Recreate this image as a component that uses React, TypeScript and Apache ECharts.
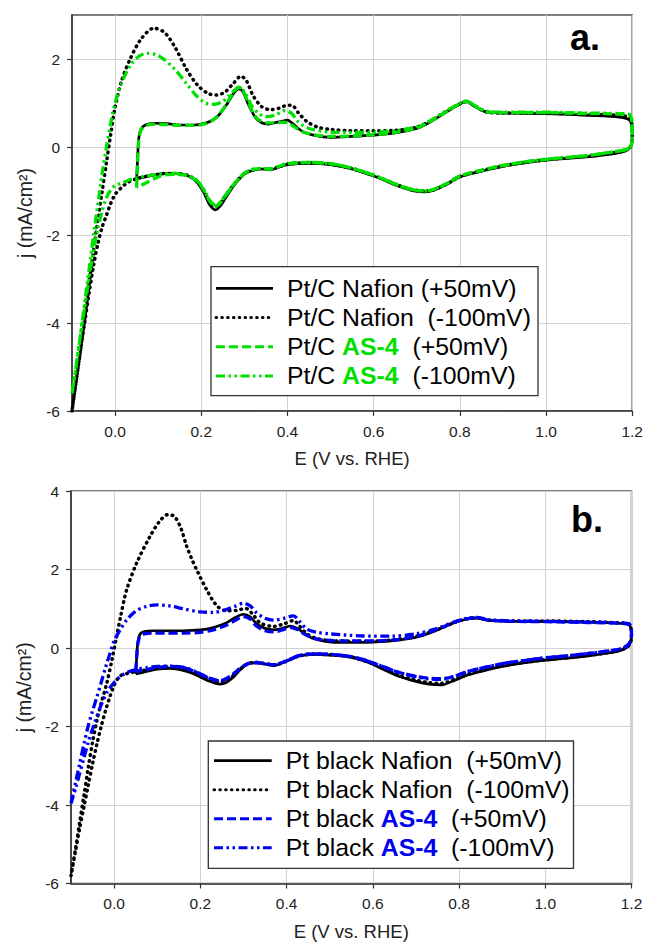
import React, { useEffect, useRef } from 'react';
import * as echarts from 'echarts';

// ---------- tick values ----------
const X_TICKS = [0, 0.2, 0.4, 0.6, 0.8, 1.0, 1.2];
const Y_TICKS_A = [-6, -4, -2, 0, 2];
const Y_TICKS_B = [-6, -4, -2, 0, 2, 4];

// ---------- panel a: Pt/C ----------
const A_NAFION_50: number[][] = [
  [0.05,-0.72],[0.052,-0.3],[0.055,0.2],[0.06,0.4],[0.07,0.5],[0.09,0.54],[0.12,0.53],[0.15,0.5],[0.18,0.5],[0.2,0.52],
  [0.22,0.58],[0.24,0.72],[0.26,0.98],[0.275,1.22],[0.287,1.32],[0.297,1.25],[0.31,0.95],[0.325,0.68],[0.34,0.55],[0.355,0.52],
  [0.37,0.55],[0.385,0.58],[0.4,0.61],[0.41,0.55],[0.425,0.42],[0.44,0.33],[0.46,0.27],[0.5,0.22],[0.55,0.24],[0.6,0.27],
  [0.65,0.32],[0.7,0.42],[0.73,0.56],[0.76,0.74],[0.79,0.92],[0.815,1.03],[0.835,0.92],[0.86,0.8],[0.9,0.77],[1.0,0.76],
  [1.1,0.72],[1.17,0.68],[1.195,0.6],[1.2,0.3],[1.198,0.05],[1.19,-0.06],[1.175,-0.12],[1.15,-0.16],[1.1,-0.22],[1.05,-0.26],
  [1.0,-0.3],[0.95,-0.36],[0.9,-0.44],[0.85,-0.55],[0.8,-0.68],[0.77,-0.85],[0.74,-0.98],[0.72,-1.02],[0.69,-0.99],[0.66,-0.9],
  [0.63,-0.78],[0.6,-0.66],[0.55,-0.5],[0.5,-0.4],[0.45,-0.37],[0.4,-0.4],[0.38,-0.46],[0.36,-0.52],[0.34,-0.5],[0.32,-0.53],
  [0.3,-0.62],[0.28,-0.82],[0.26,-1.1],[0.245,-1.33],[0.233,-1.43],[0.22,-1.32],[0.205,-1.02],[0.19,-0.8],[0.17,-0.66],[0.14,-0.6],
  [0.12,-0.6],[0.1,-0.62],[0.075,-0.67],[0.05,-0.72]
];
const A_NAFION_100: number[][] = [
  [-0.1,-6.0],[-0.09,-5.3],[-0.08,-4.6],[-0.07,-3.85],[-0.06,-3.1],[-0.05,-2.35],[-0.04,-1.65],[-0.03,-1.0],[-0.02,-0.35],[-0.01,0.3],
  [0.0,0.9],[0.015,1.5],[0.035,2.0],[0.06,2.45],[0.09,2.7],[0.115,2.6],[0.14,2.25],[0.165,1.78],[0.19,1.42],[0.215,1.22],
  [0.235,1.18],[0.255,1.25],[0.275,1.45],[0.292,1.61],[0.305,1.5],[0.32,1.17],[0.34,0.92],[0.36,0.85],[0.38,0.88],[0.4,0.95],
  [0.41,0.95],[0.425,0.78],[0.445,0.58],[0.47,0.45],[0.5,0.4],[0.55,0.37],[0.6,0.37],[0.65,0.38],[0.7,0.45],[0.73,0.58],
  [0.76,0.76],[0.79,0.93],[0.815,1.03],[0.835,0.93],[0.86,0.8],[0.9,0.77],[1.0,0.77],[1.1,0.74],[1.17,0.72],[1.195,0.65],
  [1.2,0.35],[1.198,0.05],[1.19,-0.05],[1.175,-0.1],[1.15,-0.14],[1.1,-0.2],[1.0,-0.29],[0.95,-0.35],[0.9,-0.43],[0.85,-0.54],
  [0.8,-0.67],[0.77,-0.84],[0.74,-0.97],[0.72,-1.0],[0.69,-0.97],[0.66,-0.88],[0.63,-0.76],[0.6,-0.65],[0.55,-0.49],[0.5,-0.39],
  [0.45,-0.36],[0.4,-0.39],[0.38,-0.45],[0.36,-0.5],[0.34,-0.49],[0.32,-0.52],[0.3,-0.6],[0.28,-0.8],[0.26,-1.05],[0.245,-1.26],
  [0.233,-1.35],[0.22,-1.26],[0.205,-0.98],[0.19,-0.78],[0.17,-0.65],[0.14,-0.6],[0.12,-0.6],[0.1,-0.62],[0.075,-0.66],[0.05,-0.72],
  [0.03,-0.8],[0.015,-0.92],[0.0,-1.08],[-0.01,-1.28],[-0.02,-1.55],[-0.03,-1.82],[-0.04,-2.2],[-0.05,-2.7],[-0.06,-3.3],[-0.07,-3.95],
  [-0.08,-4.6],[-0.09,-5.3],[-0.1,-6.0]
];
const A_AS4_50: number[][] = [
  [0.05,-0.92],[0.052,-0.4],[0.055,0.15],[0.06,0.38],[0.07,0.48],[0.09,0.52],[0.12,0.51],[0.15,0.49],[0.18,0.49],[0.2,0.51],
  [0.22,0.57],[0.24,0.72],[0.26,1.0],[0.275,1.25],[0.287,1.36],[0.297,1.28],[0.31,0.98],[0.325,0.7],[0.34,0.58],[0.355,0.55],
  [0.37,0.55],[0.385,0.56],[0.4,0.56],[0.41,0.5],[0.425,0.4],[0.44,0.33],[0.46,0.28],[0.5,0.24],[0.55,0.25],[0.6,0.28],
  [0.65,0.33],[0.7,0.43],[0.73,0.57],[0.76,0.75],[0.79,0.93],[0.815,1.04],[0.835,0.93],[0.86,0.81],[0.9,0.78],[1.0,0.78],
  [1.1,0.76],[1.17,0.75],[1.195,0.72],[1.2,0.4],[1.198,0.05],[1.19,-0.04],[1.175,-0.08],[1.15,-0.12],[1.1,-0.19],[1.0,-0.28],
  [0.95,-0.34],[0.9,-0.42],[0.85,-0.53],[0.8,-0.66],[0.77,-0.83],[0.74,-0.96],[0.72,-1.0],[0.69,-0.97],[0.66,-0.88],[0.63,-0.76],
  [0.6,-0.64],[0.55,-0.48],[0.5,-0.38],[0.45,-0.35],[0.4,-0.38],[0.38,-0.44],[0.36,-0.5],[0.34,-0.49],[0.32,-0.51],[0.3,-0.6],
  [0.28,-0.8],[0.26,-1.05],[0.245,-1.26],[0.233,-1.35],[0.22,-1.24],[0.205,-0.97],[0.19,-0.77],[0.17,-0.66],[0.14,-0.62],[0.12,-0.63],
  [0.1,-0.68],[0.075,-0.8],[0.05,-0.92]
];
const A_AS4_100: number[][] = [
  [-0.1,-5.6],[-0.09,-4.95],[-0.08,-4.25],[-0.07,-3.5],[-0.06,-2.75],[-0.05,-2.0],[-0.04,-1.3],[-0.03,-0.6],[-0.02,0.0],[-0.01,0.55],
  [0.0,1.0],[0.015,1.45],[0.035,1.85],[0.055,2.06],[0.075,2.13],[0.095,2.1],[0.115,1.98],[0.14,1.75],[0.165,1.45],[0.19,1.15],
  [0.21,1.0],[0.23,0.97],[0.25,1.04],[0.27,1.22],[0.287,1.35],[0.3,1.25],[0.318,0.92],[0.335,0.75],[0.35,0.69],[0.37,0.72],
  [0.395,0.83],[0.41,0.76],[0.426,0.56],[0.45,0.42],[0.5,0.34],[0.55,0.33],[0.6,0.34],[0.65,0.37],[0.7,0.46],[0.73,0.59],
  [0.76,0.77],[0.79,0.94],[0.815,1.04],[0.835,0.94],[0.86,0.82],[0.9,0.79],[1.0,0.79],[1.1,0.77],[1.17,0.76],[1.195,0.73],
  [1.2,0.4],[1.198,0.05],[1.19,-0.04],[1.175,-0.08],[1.15,-0.12],[1.1,-0.19],[1.0,-0.28],[0.95,-0.34],[0.9,-0.42],[0.85,-0.53],
  [0.8,-0.66],[0.77,-0.83],[0.74,-0.96],[0.72,-1.0],[0.69,-0.97],[0.66,-0.88],[0.63,-0.76],[0.6,-0.64],[0.55,-0.48],[0.5,-0.38],
  [0.45,-0.35],[0.4,-0.38],[0.38,-0.44],[0.36,-0.5],[0.34,-0.49],[0.32,-0.51],[0.3,-0.6],[0.28,-0.8],[0.26,-1.05],[0.245,-1.24],
  [0.233,-1.32],[0.22,-1.22],[0.205,-0.95],[0.19,-0.76],[0.17,-0.65],[0.14,-0.6],[0.12,-0.6],[0.1,-0.62],[0.075,-0.66],[0.05,-0.7],
  [0.03,-0.76],[0.015,-0.82],[0.0,-0.88],[-0.01,-0.98],[-0.02,-1.15],[-0.03,-1.45],[-0.04,-1.85],[-0.05,-2.35],[-0.06,-2.95],[-0.07,-3.6],
  [-0.08,-4.25],[-0.09,-4.95],[-0.1,-5.6]
];

// ---------- panel b: Pt black ----------
const B_NAFION_50: number[][] = [
  [0.05,-0.66],[0.052,-0.3],[0.055,0.15],[0.06,0.35],[0.07,0.42],[0.09,0.44],[0.12,0.44],[0.16,0.44],[0.2,0.46],[0.23,0.52],
  [0.26,0.64],[0.28,0.77],[0.3,0.86],[0.315,0.8],[0.33,0.62],[0.35,0.5],[0.37,0.46],[0.39,0.5],[0.41,0.56],[0.425,0.5],
  [0.44,0.38],[0.46,0.25],[0.49,0.17],[0.53,0.14],[0.6,0.15],[0.66,0.2],[0.71,0.3],[0.75,0.46],[0.79,0.65],[0.82,0.74],
  [0.84,0.76],[0.87,0.7],[0.92,0.68],[1.0,0.68],[1.1,0.66],[1.17,0.63],[1.195,0.58],[1.2,0.35],[1.198,0.15],[1.19,0.02],
  [1.175,-0.06],[1.15,-0.12],[1.1,-0.2],[1.05,-0.26],[1.0,-0.31],[0.95,-0.38],[0.9,-0.47],[0.85,-0.6],[0.82,-0.69],[0.79,-0.82],
  [0.76,-0.94],[0.73,-0.92],[0.7,-0.85],[0.66,-0.72],[0.62,-0.52],[0.59,-0.37],[0.55,-0.24],[0.5,-0.18],[0.46,-0.16],[0.43,-0.2],
  [0.416,-0.26],[0.39,-0.38],[0.37,-0.45],[0.35,-0.41],[0.33,-0.38],[0.31,-0.41],[0.29,-0.58],[0.277,-0.74],[0.26,-0.88],[0.246,-0.92],
  [0.23,-0.88],[0.215,-0.82],[0.2,-0.74],[0.183,-0.65],[0.16,-0.57],[0.13,-0.52],[0.1,-0.54],[0.075,-0.6],[0.05,-0.66]
];
const B_NAFION_100: number[][] = [
  [-0.1,-5.8],[-0.09,-5.15],[-0.08,-4.45],[-0.07,-3.75],[-0.06,-3.05],[-0.05,-2.4],[-0.04,-1.85],[-0.03,-1.4],[-0.017,-0.9],[-0.005,-0.3],
  [0.005,0.25],[0.015,0.8],[0.029,1.48],[0.052,2.16],[0.083,2.84],[0.105,3.22],[0.125,3.4],[0.14,3.35],[0.155,3.05],[0.168,2.6],
  [0.18,2.27],[0.192,1.98],[0.215,1.48],[0.238,1.08],[0.26,0.95],[0.285,0.96],[0.305,1.01],[0.32,0.88],[0.339,0.64],[0.37,0.55],
  [0.395,0.62],[0.416,0.7],[0.43,0.56],[0.447,0.36],[0.47,0.24],[0.5,0.19],[0.57,0.17],[0.64,0.2],[0.7,0.3],[0.75,0.47],
  [0.79,0.65],[0.82,0.75],[0.84,0.77],[0.87,0.71],[0.92,0.69],[1.0,0.69],[1.1,0.67],[1.17,0.64],[1.195,0.6],[1.2,0.35],
  [1.198,0.15],[1.19,0.02],[1.175,-0.05],[1.15,-0.11],[1.1,-0.19],[1.05,-0.25],[1.0,-0.3],[0.95,-0.37],[0.9,-0.45],[0.85,-0.58],
  [0.82,-0.67],[0.79,-0.8],[0.76,-0.9],[0.73,-0.88],[0.7,-0.82],[0.66,-0.7],[0.62,-0.5],[0.59,-0.36],[0.55,-0.23],[0.5,-0.17],
  [0.46,-0.16],[0.43,-0.2],[0.416,-0.26],[0.39,-0.38],[0.37,-0.44],[0.35,-0.4],[0.33,-0.37],[0.31,-0.4],[0.29,-0.56],[0.277,-0.7],
  [0.26,-0.82],[0.246,-0.86],[0.23,-0.82],[0.215,-0.76],[0.2,-0.68],[0.183,-0.6],[0.16,-0.53],[0.13,-0.5],[0.1,-0.52],[0.075,-0.56],
  [0.05,-0.6],[0.03,-0.65],[0.013,-0.72],[0.0,-0.95],[-0.01,-1.25],[-0.02,-1.6],[-0.03,-2.0],[-0.04,-2.45],[-0.05,-2.95],[-0.06,-3.5],
  [-0.07,-4.05],[-0.08,-4.6],[-0.09,-5.2],[-0.1,-5.8]
];
const B_AS4_50: number[][] = [
  [0.05,-0.6],[0.052,-0.3],[0.055,0.1],[0.06,0.3],[0.07,0.36],[0.09,0.38],[0.12,0.38],[0.16,0.38],[0.2,0.4],[0.23,0.46],
  [0.26,0.58],[0.28,0.7],[0.3,0.8],[0.315,0.74],[0.33,0.56],[0.35,0.44],[0.37,0.41],[0.39,0.46],[0.41,0.52],[0.425,0.47],
  [0.44,0.36],[0.46,0.26],[0.49,0.2],[0.53,0.18],[0.6,0.18],[0.66,0.22],[0.71,0.32],[0.75,0.48],[0.79,0.66],[0.82,0.75],
  [0.84,0.77],[0.87,0.71],[0.92,0.68],[1.0,0.67],[1.1,0.65],[1.17,0.63],[1.195,0.6],[1.2,0.38],[1.198,0.18],[1.19,0.06],
  [1.175,-0.02],[1.15,-0.07],[1.1,-0.14],[1.05,-0.2],[1.0,-0.25],[0.95,-0.32],[0.9,-0.4],[0.85,-0.52],[0.82,-0.6],[0.79,-0.72],
  [0.76,-0.78],[0.73,-0.77],[0.7,-0.72],[0.66,-0.62],[0.62,-0.46],[0.59,-0.34],[0.55,-0.22],[0.5,-0.16],[0.46,-0.15],[0.43,-0.19],
  [0.416,-0.25],[0.39,-0.37],[0.37,-0.43],[0.35,-0.4],[0.33,-0.37],[0.31,-0.4],[0.29,-0.54],[0.277,-0.66],[0.26,-0.78],[0.246,-0.83],
  [0.23,-0.8],[0.215,-0.74],[0.2,-0.66],[0.183,-0.58],[0.16,-0.5],[0.13,-0.47],[0.1,-0.5],[0.075,-0.55],[0.05,-0.6]
];
const B_AS4_100: number[][] = [
  [-0.1,-3.96],[-0.09,-3.45],[-0.08,-2.95],[-0.07,-2.45],[-0.06,-1.98],[-0.05,-1.6],[-0.04,-1.25],[-0.03,-0.88],[-0.02,-0.5],[-0.01,-0.15],
  [0.0,0.18],[0.015,0.48],[0.029,0.71],[0.05,0.94],[0.076,1.06],[0.1,1.1],[0.13,1.07],[0.16,1.0],[0.2,0.92],[0.23,0.91],
  [0.255,0.96],[0.28,1.06],[0.3,1.14],[0.315,1.08],[0.33,0.9],[0.35,0.76],[0.37,0.71],[0.395,0.76],[0.416,0.82],[0.43,0.68],
  [0.447,0.48],[0.47,0.4],[0.5,0.36],[0.57,0.31],[0.64,0.3],[0.7,0.36],[0.75,0.5],[0.79,0.67],[0.82,0.76],[0.84,0.78],
  [0.87,0.72],[0.92,0.69],[1.0,0.68],[1.1,0.66],[1.17,0.64],[1.195,0.61],[1.2,0.38],[1.198,0.18],[1.19,0.06],[1.175,-0.02],
  [1.15,-0.07],[1.1,-0.14],[1.05,-0.2],[1.0,-0.25],[0.95,-0.32],[0.9,-0.4],[0.85,-0.52],[0.82,-0.6],[0.79,-0.72],[0.76,-0.8],
  [0.73,-0.79],[0.7,-0.73],[0.66,-0.62],[0.62,-0.46],[0.59,-0.34],[0.55,-0.22],[0.5,-0.16],[0.46,-0.15],[0.43,-0.19],[0.416,-0.25],
  [0.39,-0.37],[0.37,-0.43],[0.35,-0.4],[0.33,-0.37],[0.31,-0.4],[0.29,-0.54],[0.277,-0.66],[0.26,-0.78],[0.246,-0.84],[0.23,-0.8],
  [0.215,-0.74],[0.2,-0.66],[0.183,-0.57],[0.16,-0.49],[0.13,-0.46],[0.1,-0.47],[0.075,-0.5],[0.05,-0.55],[0.03,-0.62],[0.015,-0.72],
  [0.0,-0.88],[-0.015,-1.1],[-0.03,-1.45],[-0.045,-1.9],[-0.06,-2.4],[-0.07,-2.8],[-0.08,-3.2],[-0.09,-3.6],[-0.1,-3.96]
];

// ---------- legend texts ----------
const CATALYST_A = 'Pt/C';
const CATALYST_B = 'Pt black';
const BINDERS = ['Nafion', 'Nafion', 'AS-4', 'AS-4'];
const LIMITS = ['(+50mV)', '(-100mV)', '(+50mV)', '(-100mV)'];
const GAPS_A = [1, 2, 2, 2];
const GAPS_B = [2, 2, 2, 2];
const PANEL_TAGS = ['a.', 'b.'];

// ---------- styles ----------
const BLACK = '#000000';
const GREEN = '#00e000';
const BLUE = '#0000f0';
const FONT = 'Liberation Sans, Arial, sans-serif';
const LEG_FS = 24.8;

const LINE_KINDS: Record<string, any> = {
  solid: { type: 'solid', width: 2.7, cap: 'butt' },
  dot: { type: [0.6, 5.2], width: 3.5, cap: 'round' },
  dash: { type: [9, 4], width: 3.3, cap: 'butt' },
  dashdotdot: { type: [9, 3.5, 2.5, 3.5, 2.5, 3.5], width: 3.3, cap: 'butt' },
};
const KIND_ORDER = ['solid', 'dot', 'dash', 'dashdotdot'];

function seriesName(cat: string, i: number, gaps: number[]) {
  return `${cat} ${BINDERS[i]}${' '.repeat(gaps[i])}${LIMITS[i]}`;
}

export default function App() {
  const ref = useRef<HTMLDivElement>(null);
  useEffect(() => {
    if (!ref.current) return;
    const chart = echarts.init(ref.current, null, { renderer: 'svg' });

    const grids = [
      { left: 72, top: 15, width: 564.5, height: 396 },
      { left: 71, top: 491, width: 560.5, height: 392.5 },
    ];
    const yTicks = [Y_TICKS_A, Y_TICKS_B];
    const yMax = [3, 4];

    const axisColor = '#333';
    const xAxes = grids.map((_, gi) => ({
      type: 'value',
      gridIndex: gi,
      min: -0.1,
      max: 1.2,
      name: 'E (V vs. RHE)',
      nameLocation: 'middle',
      nameGap: 38,
      nameTextStyle: { fontSize: 18.5, color: '#222', fontFamily: FONT },
      axisLine: { show: true, onZero: false, lineStyle: { color: axisColor, width: 1.5 } },
      axisTick: { show: true, inside: false, length: 5, customValues: X_TICKS, lineStyle: { color: axisColor, width: 1.2 } },
      axisLabel: {
        customValues: X_TICKS,
        margin: 12,
        fontSize: 15.5,
        color: '#222',
        fontFamily: FONT,
        formatter: (v: number) => v.toFixed(1),
      },
      splitLine: { show: true, lineStyle: { color: '#d2d2d2', width: 1 } },
    }));
    const yAxes = grids.map((_, gi) => ({
      type: 'value',
      gridIndex: gi,
      min: -6,
      max: yMax[gi],
      name: 'j (mA/cm²)',
      nameLocation: 'middle',
      nameGap: 34,
      nameTextStyle: { fontSize: 19.5, color: '#222', fontFamily: FONT },
      axisLine: { show: true, onZero: false, lineStyle: { color: axisColor, width: 1.5 } },
      axisTick: { show: true, inside: false, length: 5, customValues: yTicks[gi], lineStyle: { color: axisColor, width: 1.2 } },
      axisLabel: { customValues: yTicks[gi], margin: 12, fontSize: 15.5, color: '#222', fontFamily: FONT },
      splitLine: { show: true, lineStyle: { color: '#d2d2d2', width: 1 } },
    }));

    const panelData = [
      [A_NAFION_50, A_NAFION_100, A_AS4_50, A_AS4_100],
      [B_NAFION_50, B_NAFION_100, B_AS4_50, B_AS4_100],
    ];
    const panelAccent = [GREEN, BLUE];
    const cats = [CATALYST_A, CATALYST_B];
    const gaps = [GAPS_A, GAPS_B];

    const series: any[] = [];
    panelData.forEach((list, gi) => {
      list.forEach((data, i) => {
        const kind = LINE_KINDS[KIND_ORDER[i]];
        series.push({
          type: 'line',
          name: seriesName(cats[gi], i, gaps[gi]),
          xAxisIndex: gi,
          yAxisIndex: gi,
          data,
          symbol: 'none',
          smooth: 0.3,
          clip: true,
          z: 2 + i,
          lineStyle: {
            color: i < 2 ? BLACK : panelAccent[gi],
            width: kind.width,
            type: kind.type,
            cap: kind.cap,
          },
        });
      });
    });

    // legend boxes drawn as graphics
    const legendBoxes = [
      { x: 211, y: 266.7, w: 327, h: 129, row0: 288.3, step: 29.2, lx1: 216, lx2: 273, tx: 287 },
      { x: 208.3, y: 741, w: 365.2, h: 127.3, row0: 760.7, step: 29, lx1: 214, lx2: 271.7, tx: 285.7 },
    ];
    const graphic: any[] = [];
    legendBoxes.forEach((b, gi) => {
      graphic.push({
        type: 'rect',
        z: 100,
        shape: { x: b.x, y: b.y, width: b.w, height: b.h },
        style: { fill: '#fff', stroke: '#333', lineWidth: 1.3 },
      });
      for (let i = 0; i < 4; i++) {
        const kind = LINE_KINDS[KIND_ORDER[i]];
        const color = i < 2 ? BLACK : panelAccent[gi];
        const y = b.row0 + i * b.step;
        graphic.push({
          type: 'line',
          z: 101,
          shape: { x1: b.lx1, y1: y, x2: b.lx2, y2: y },
          style: {
            stroke: color,
            lineWidth: Math.min(kind.width, 3),
            lineDash: kind.type === 'solid' ? null : kind.type,
            lineCap: kind.cap,
          },
        });
        const isAS = BINDERS[i] === 'AS-4';
        const gapPx = gaps[gi][i] * 0.278 * LEG_FS;
        graphic.push({
          type: 'text',
          z: 101,
          x: b.tx,
          y,
          style: {
            text: `{n|${cats[gi]} }{${isAS ? 'h' : 'n'}|${BINDERS[i]}}{p|${LIMITS[i]}}`,
            verticalAlign: 'middle',
            align: 'left',
            fontFamily: FONT,
            fontSize: LEG_FS,
            fill: '#000',
            rich: {
              n: { fontSize: LEG_FS, fontFamily: FONT, fill: '#000', color: '#000' },
              h: { fontSize: LEG_FS, fontFamily: FONT, fontWeight: 'bold', fill: panelAccent[gi], color: panelAccent[gi] },
              p: { fontSize: LEG_FS, fontFamily: FONT, fill: '#000', color: '#000', padding: [0, 0, 0, gapPx] },
            },
          },
        });
      }
    });
    const tagPos = [
      { x: 570, y: 37 },
      { x: 571, y: 519 },
    ];
    PANEL_TAGS.forEach((t, gi) => {
      graphic.push({
        type: 'text',
        z: 101,
        x: tagPos[gi].x,
        y: tagPos[gi].y,
        style: {
          text: t,
          fontFamily: FONT,
          fontSize: 36,
          fontWeight: 'bold',
          fill: '#000',
          verticalAlign: 'middle',
          align: 'left',
        },
      });
    });

    chart.setOption({
      animation: false,
      backgroundColor: '#fff',
      grid: grids.map((g) => ({ ...g, show: true, borderColor: '#555', borderWidth: 1.5, backgroundColor: 'transparent' })),
      xAxis: xAxes,
      yAxis: yAxes,
      series,
      graphic,
    });

    return () => chart.dispose();
  }, []);

  return (
    <div
      ref={ref}
      style={{ position: 'fixed', left: 0, top: 0, width: 646, height: 942, background: '#fff' }}
    />
  );
}
